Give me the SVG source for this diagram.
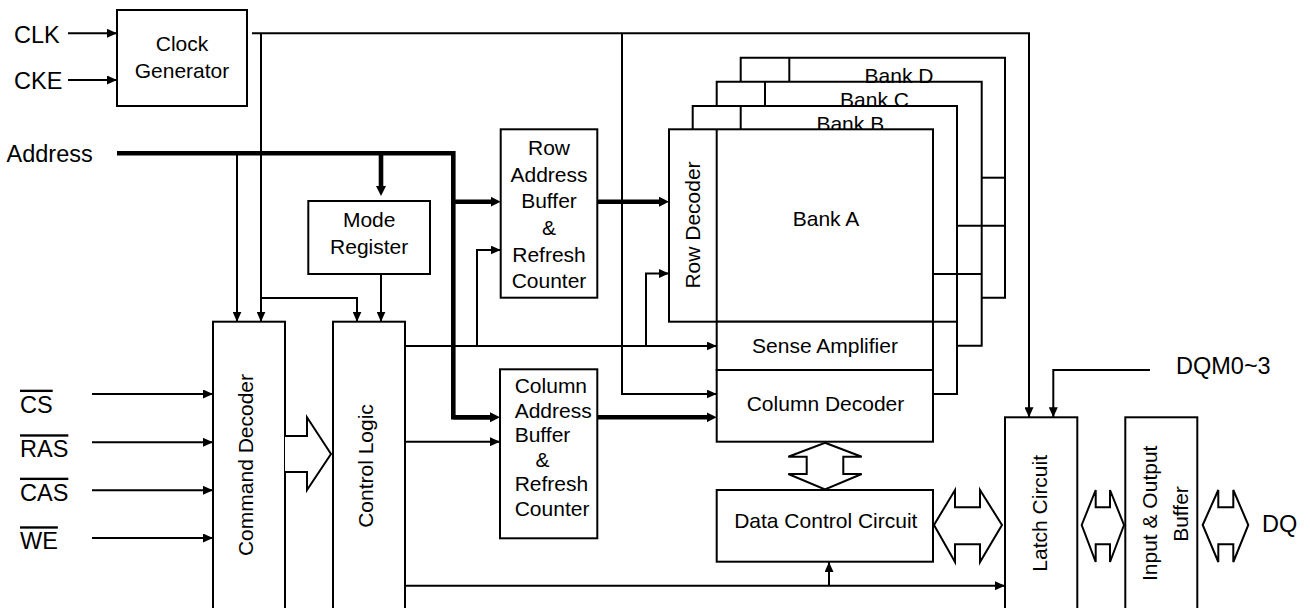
<svg xmlns="http://www.w3.org/2000/svg" width="1310" height="608" viewBox="0 0 1310 608">
<style>
  .box { fill: #fff; stroke: #000; stroke-width: 2; }
  .ln { fill: none; stroke: #000; stroke-width: 2; }
  .wire { fill: none; stroke: #000; stroke-width: 2; marker-end: url(#ah); }
  .bus { fill: none; stroke: #000; stroke-width: 4.6; stroke-linejoin: miter; }
  .busA { fill: none; stroke: #000; stroke-width: 4.6; marker-end: url(#ahb); }
  .blk { fill: #fff; stroke: #000; stroke-width: 2; stroke-linejoin: miter; }
  text { font-family: "Liberation Sans", Arial, sans-serif; font-size: 21px; fill: #000; }
  .c { text-anchor: middle; }
  .lbl { font-size: 23.5px; }
  .ov { text-decoration: overline; }
</style>
<defs>
  <marker id="ah" markerUnits="userSpaceOnUse" markerWidth="10" markerHeight="9" refX="10" refY="4.5" orient="auto">
    <path d="M0,0 L10,4.5 L0,9 z" fill="#000"/>
  </marker>
  <marker id="ahb" markerUnits="userSpaceOnUse" markerWidth="10" markerHeight="10" refX="2" refY="5" orient="auto">
    <path d="M0,0 L10,5 L0,10 z" fill="#000"/>
  </marker>
</defs>
<rect width="1310" height="608" fill="#fff"/>

<g id="labels">
  <text class="lbl" x="14" y="43.3">CLK</text>
  <text class="lbl" x="14" y="89.3">CKE</text>
  <text class="lbl" x="6.5" y="162.3">Address</text>
  <text class="lbl ov" x="20" y="412.7">CS</text>
  <text class="lbl ov" x="20" y="457.3">RAS</text>
  <text class="lbl ov" x="20" y="500.7">CAS</text>
  <text class="lbl ov" x="20" y="549.3">WE</text>
  <text class="lbl" x="1176" y="374">DQM0~3</text>
  <text class="lbl" x="1262" y="532.3">DQ</text>
</g>

<g id="clock-generator">
  <rect class="box" x="117" y="10" width="130" height="96"/>
  <text class="c" x="182" y="50.7">Clock</text>
  <text class="c" x="182" y="78">Generator</text>
</g>

<g id="mode-register">
  <rect class="box" x="308.3" y="201" width="121.7" height="73"/>
  <text class="c" x="369.2" y="227">Mode</text>
  <text class="c" x="369.2" y="254">Register</text>
</g>

<g id="row-address-buffer">
  <rect class="box" x="500.7" y="129.3" width="96.6" height="168.4"/>
  <text class="c" x="549" y="155">Row</text>
  <text class="c" x="549" y="181.7">Address</text>
  <text class="c" x="549" y="208.3">Buffer</text>
  <text class="c" x="549" y="235">&amp;</text>
  <text class="c" x="549" y="261.7">Refresh</text>
  <text class="c" x="549" y="288.3">Counter</text>
</g>

<g id="column-address-buffer">
  <rect class="box" x="500" y="369.3" width="97.3" height="169"/>
  <text x="514.7" y="393.3">Column</text>
  <text x="514.7" y="418">Address</text>
  <text x="514.7" y="441.7">Buffer</text>
  <text x="535.5" y="466.7">&amp;</text>
  <text x="514.7" y="490.7">Refresh</text>
  <text x="514.7" y="515.5">Counter</text>
</g>

<g id="command-decoder">
  <rect class="box" x="213" y="321.7" width="72" height="300"/>
  <text class="c" transform="translate(253.3,465) rotate(-90)">Command Decoder</text>
</g>

<g id="control-logic">
  <rect class="box" x="333" y="321.7" width="72" height="300"/>
  <text class="c" transform="translate(373.3,466) rotate(-90)">Control Logic</text>
</g>

<g id="bank-d">
  <path class="ln" d="M740.7,81.7 V57.7 H1005 V297.7 H981.7"/>
  <line class="ln" x1="789.3" y1="57.7" x2="789.3" y2="81.7"/>
  <text class="c" x="899" y="83">Bank D</text>
</g>
<g id="bank-c">
  <path class="ln" d="M716.7,106 V81.7 H981.7 V345.7 H957"/>
  <line class="ln" x1="765" y1="81.7" x2="765" y2="106"/>
  <text class="c" x="874.5" y="107">Bank C</text>
</g>
<g id="bank-b">
  <path class="ln" d="M692.7,129.3 V106 H957 V394 H933"/>
  <line class="ln" x1="740.7" y1="106" x2="740.7" y2="129.3"/>
  <text class="c" x="850.3" y="130.5">Bank B</text>
</g>
<g id="bank-a">
  <rect class="box" x="669" y="129.3" width="264" height="192.4"/>
  <line class="ln" x1="716.7" y1="129.3" x2="716.7" y2="321.7"/>
  <text class="c" x="826" y="225.7">Bank A</text>
</g>
<g id="bank-stack-edges">
  <line class="ln" x1="933" y1="321.7" x2="957" y2="321.7"/>
  <line class="ln" x1="933" y1="274" x2="981.7" y2="274"/>
  <line class="ln" x1="957" y1="225.7" x2="1005" y2="225.7"/>
  <line class="ln" x1="981.7" y1="177.7" x2="1005" y2="177.7"/>
</g>
<g id="row-decoder">
  <text class="c" transform="translate(700,225) rotate(-90)">Row Decoder</text>
</g>

<g id="sense-amplifier">
  <rect class="box" x="716.7" y="321.7" width="216.3" height="48.3"/>
  <text class="c" x="825" y="353.3">Sense Amplifier</text>
</g>

<g id="column-decoder">
  <rect class="box" x="716.7" y="370" width="216.3" height="71.7"/>
  <text class="c" x="825.5" y="410.7">Column Decoder</text>
</g>

<g id="data-control-circuit">
  <rect class="box" x="716.7" y="490" width="216.3" height="71.7"/>
  <text class="c" x="825.8" y="528.3">Data Control Circuit</text>
</g>

<g id="latch-circuit">
  <rect class="box" x="1005" y="417.3" width="72.3" height="210"/>
  <text class="c" transform="translate(1046.7,513.3) rotate(-90)">Latch Circuit</text>
</g>

<g id="io-buffer">
  <rect class="box" x="1125.3" y="417.3" width="72" height="210"/>
  <text class="c" transform="translate(1156.7,513.3) rotate(-90)">Input &amp; Output</text>
  <text class="c" transform="translate(1188.3,514) rotate(-90)">Buffer</text>
</g>

<g id="connectors">
  <path class="wire" d="M68,33.3 H117"/>
  <path class="wire" d="M68,80 H117"/>
  <path class="wire" d="M252,33.3 H1029 V417.3"/>
  <path class="wire" d="M261,33.3 V321.7"/>
  <path class="wire" d="M261,298 H357 V321.7"/>
  <path class="wire" d="M622,33.3 V394 H716.7"/>
  <path class="wire" d="M237,153.3 V321.7"/>
  <path class="wire" d="M381,274 V321.7"/>

  <path class="wire" d="M92,394 H213"/>
  <path class="wire" d="M92,442.3 H213"/>
  <path class="wire" d="M92,490.3 H213"/>
  <path class="wire" d="M92,538 H213"/>

  <path class="wire" d="M405,346 H716.7"/>
  <path class="wire" d="M477,346 V250 H500.7"/>
  <path class="wire" d="M646,346 V273.5 H669"/>
  <path class="wire" d="M405,441.7 H500"/>
  <path class="wire" d="M405,585.7 H1005"/>
  <path class="wire" d="M829,585.7 V562"/>
  <path class="wire" d="M1150,370 H1053.3 V417.3"/>

  <path class="bus" d="M117,153.3 H453.3 V417.3 H492"/>
  <path class="busA" d="M453.3,417.3 H492"/>
  <path class="busA" d="M453.3,201.7 H492.7"/>
  <path class="busA" d="M381,153.3 V188"/>
  <path class="busA" d="M597.3,201.7 H661"/>
  <path class="busA" d="M597.3,417.3 H708.7"/>

  <polyline class="blk" points="285,436 307,436 307,417.3 331,454 307,490 307,472 285,472"/>
  <polygon class="blk" points="825,442.7 861.7,456.7 843.3,456.7 843.3,474 861.7,474 825,489.3 788.3,474 806.7,474 806.7,456.7 788.3,456.7"/>
  <polygon class="blk" points="934,525 955,490 955,507.3 980,507.3 980,490 1002,525 980,562 980,544.3 955,544.3 955,562"/>
  <polygon class="blk" points="1081.7,525 1095.7,490 1095.7,507.3 1110,507.3 1110,490 1124,525 1110,562 1110,544.3 1095.7,544.3 1095.7,562"/>
  <polygon class="blk" points="1202.7,525 1218.3,490 1218.3,507.3 1233.3,507.3 1233.3,490 1248.3,525 1233.3,562 1233.3,544.3 1218.3,544.3 1218.3,562"/>
</g>
</svg>
